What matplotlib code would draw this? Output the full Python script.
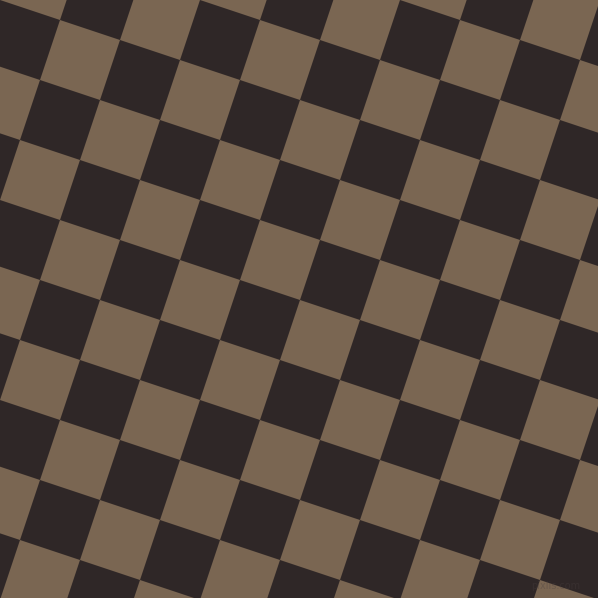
import matplotlib
matplotlib.use("Agg")
import matplotlib.pyplot as plt
from matplotlib.patches import Polygon

# checker colours
dark = "#2f2727"
light = "#7a6652"

# lattice step vectors (pixels) of the rotated checkerboard
step_u = (60, 20)
step_v = (-20, 60)

fig = plt.figure(figsize=(5.98, 5.98), dpi=100)
ax = fig.add_axes([0, 0, 1, 1])
ax.set_xlim(0, 598)
ax.set_ylim(598, 0)
ax.axis("off")
ax.add_patch(plt.Rectangle((0, 0), 598, 598, color=light, zorder=0))

for i in range(-6, 16):
    for j in range(-12, 14):
        if (i + j) % 2:
            continue
        x0 = i * step_u[0] + j * step_v[0]
        y0 = i * step_u[1] + j * step_v[1]
        pts = [(x0, y0),
               (x0 + step_u[0], y0 + step_u[1]),
               (x0 + step_u[0] + step_v[0], y0 + step_u[1] + step_v[1]),
               (x0 + step_v[0], y0 + step_v[1])]
        ax.add_patch(Polygon(pts, closed=True, facecolor=dark, edgecolor="none", zorder=1))

ax.text(580, 586, "pixlis.com", fontsize=7, color="#4a4040", alpha=0.35,
        ha="right", va="center", zorder=2)

fig.savefig("out.png", dpi=100)
